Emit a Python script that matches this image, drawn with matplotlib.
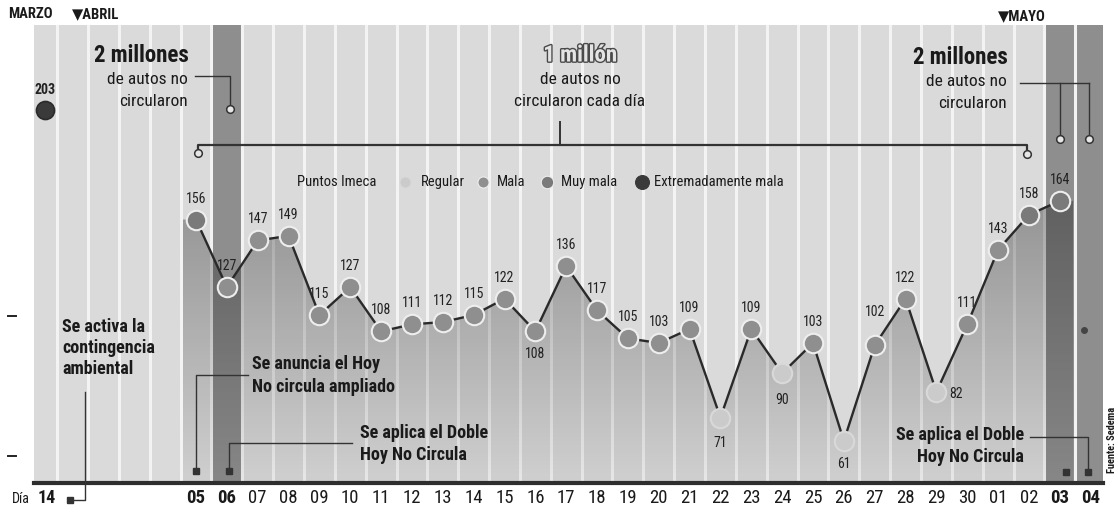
import matplotlib
matplotlib.use('Agg')
import matplotlib.pyplot as plt
import numpy as np
from matplotlib import font_manager as fm
from matplotlib import patheffects as pe

# ---------------- data ----------------
days = ['05', '06', '07', '08', '09', '10', '11', '12', '13', '14', '15', '16', '17', '18', '19',
        '20', '21', '22', '23', '24', '25', '26', '27', '28', '29', '30', '01', '02', '03', '04']
bold_days = ['05', '06', '03', '04']
imeca = [156, 127, 147, 149, 115, 127, 108, 111, 112, 115, 122, 108, 136, 117, 105,
         103, 109, 71, 109, 90, 103, 61, 102, 122, 82, 111, 143, 158, 164]
march_day = '14'
march_imeca = 203
categories = ['Regular', 'Mala', 'Muy mala', 'Extremadamente mala']
cat_upper = [100, 150, 200, 999]
cat_colors = ['#cbcbcb', '#8f8f8f', '#7a7a7a', '#3a3a3a']
cat_edges = ['#d9d9d9', '#eeeeee', '#eeeeee', '#2a2a2a']

# ---------------- fonts ----------------
avail = {f.name for f in fm.fontManager.ttflist}
narrow = next((f for f in ['Liberation Sans Narrow', 'Roboto Condensed', 'Open Sans Condensed',
                           'DejaVu Sans Condensed', 'Liberation Sans'] if f in avail), 'DejaVu Sans')
FAM = [narrow, 'DejaVu Sans']
plt.rcParams['font.family'] = FAM

def cat_of(v):
    for k, up in enumerate(cat_upper):
        if v <= up:
            return k
    return len(cat_upper) - 1

# ---------------- layout ----------------
W, H = 1118, 516
X0, DX = 196.0, 30.85
def px2i(x):
    return (x - X0) / DX
Y0, DY = 583.0, 2.33

fig = plt.figure(figsize=(W / 100, H / 100), dpi=100)
fig.patch.set_facecolor('white')
ax = fig.add_axes([34 / W, (H - 483) / H, (1103 - 34) / W, (483 - 25) / H])
ax.set_xlim(px2i(34), px2i(1103))
ax.set_ylim((Y0 - 483) / DY, (Y0 - 25) / DY)
ax.set_facecolor('#dadada')

# dark columns
for d in ['06', '03', '04']:
    i = days.index(d)
    ax.axvspan(i - 0.5, i + 0.5, color='#8e8e8e', zorder=0.5, lw=0)
# white stripes
for k in range(-6, 31):
    ax.axvline(k + 0.5, color='#f3f3f3', lw=2.2, zorder=1)

# area with gradient
n = len(imeca)
xs = np.arange(n)
xa = np.concatenate([[px2i(183)], xs, [27.5 + 0.93]])
ya = np.concatenate([[imeca[0]], imeca, [imeca[-1]]])
ylo = ax.get_ylim()[0]
poly = ax.fill_between(xa, ya, ylo, color='none', lw=0, zorder=2)
grad = np.zeros((256, 2, 4))
t = np.linspace(0, 1, 256)[:, None]
grad[..., 3] = 0.05 + 0.28 * t
im = ax.imshow(grad, extent=[xa[0], xa[-1], ylo, 168], origin='lower', aspect='auto',
               zorder=2, interpolation='bilinear')
im.set_clip_path(poly.get_paths()[0], transform=ax.transData)
ax.set_xlim(px2i(34), px2i(1103))
ax.set_ylim((Y0 - 483) / DY, (Y0 - 25) / DY)

# line and markers
ax.plot(xs, imeca, color='#2a2a2a', lw=1.7, zorder=3, solid_capstyle='round')
for i, v in enumerate(imeca):
    c = cat_of(v)
    ax.plot(i, v, 'o', ms=14, mfc=cat_colors[c], mec=cat_edges[c], mew=1.5, zorder=4)
mi = px2i(45)
cm = cat_of(march_imeca)
ax.plot(mi, march_imeca, 'o', ms=13, mfc=cat_colors[cm], mec=cat_edges[cm], mew=1.2, zorder=4)
ax.annotate(str(march_imeca), (mi, march_imeca), xytext=(0, 20), textcoords='offset pixels',
            ha='center', va='center', fontsize=10, fontweight='bold', color='#222', zorder=5)

# value labels
below = {11: (0, -23), 17: (0, -25), 19: (0, -27), 21: (0, -23), 24: (20, -2), 22: (0, 33)}
for i, v in enumerate(imeca):
    off = below.get(i, (0, 21))
    ax.annotate(str(v), (i, v), xytext=off, textcoords='offset pixels', ha='center', va='center',
                fontsize=10, color='#222', zorder=5)

# axis styling
for s in ['top', 'left', 'right']:
    ax.spines[s].set_visible(False)
ax.spines['bottom'].set_linewidth(3)
ax.spines['bottom'].set_color('#2e2e2e')
ax.set_yticks([])
ax.set_xticks(range(len(days)))
ax.set_xticklabels(days, fontsize=13.5, color='#1a1a1a')
for lab in ax.get_xticklabels():
    if lab.get_text() in bold_days:
        lab.set_fontweight('bold')
ax.tick_params(axis='x', length=0, pad=4)

# ---------------- overlay (annotations in pixel coords) ----------------
ov = fig.add_axes([0, 0, 1, 1], zorder=10)
ov.set_xlim(0, W)
ov.set_ylim(H, 0)
ov.axis('off')
ov.patch.set_alpha(0)
LC = '#333333'

def txt(x, y, s, **kw):
    kw.setdefault('va', 'center')
    kw.setdefault('color', '#1a1a1a')
    ov.text(x, y, s, **kw)

def small_circle(x, y):
    ov.plot(x, y, 'o', ms=5.5, mfc='#e6e6e6', mec=LC, mew=1.1)

def small_square(x, y):
    ov.plot(x, y, 's', ms=4.5, mfc=LC, mec=LC)

# months
txt(8, 14, 'MARZO', fontsize=10.5, fontweight='bold')
txt(72, 14, '\u25bcABRIL', fontsize=10.5, fontweight='bold')
txt(998, 16, '\u25bcMAYO', fontsize=10.5, fontweight='bold')

# left "2 millones"
txt(189, 56, '2 millones', fontsize=16.5, fontweight='bold', ha='right')
txt(188, 80, 'de autos no', fontsize=12.5, ha='right')
txt(188, 101, 'circularon', fontsize=12.5, ha='right')
ov.plot([195, 230, 230], [76, 76, 105], color=LC, lw=1)
small_circle(230, 109)

# central "1 millón"
txt(580, 55, '1 millón', fontsize=16.5, fontweight='bold', ha='center', color='#e4e4e4',
    path_effects=[pe.withStroke(linewidth=2, foreground='#4a4a4a')])
txt(580, 80, 'de autos no', fontsize=12.5, ha='center')
txt(580, 101, 'circularon cada día', fontsize=12.5, ha='center')
ov.plot([560, 560], [122, 145], color=LC, lw=1.4)
ov.plot([198, 198, 1027, 1027], [149, 145, 145, 149], color=LC, lw=1.6)
small_circle(198, 153)
small_circle(1027, 154)

# right "2 millones"
txt(1008, 58, '2 millones', fontsize=16.5, fontweight='bold', ha='right')
txt(1007, 81, 'de autos no', fontsize=12.5, ha='right')
txt(1007, 103, 'circularon', fontsize=12.5, ha='right')
ov.plot([1020, 1089], [83, 83], color=LC, lw=1)
ov.plot([1060, 1060], [83, 135], color=LC, lw=1)
ov.plot([1089, 1089], [83, 135], color=LC, lw=1)
small_circle(1060, 139)
small_circle(1089, 139)

# legend
ly = 182
txt(297, ly, 'Puntos Imeca', fontsize=10.5)
leg_x = [405, 483, 547, 642]
leg_tx = [421, 497, 561, 654]
leg_ms = [8, 8, 9, 10]
for k, cname in enumerate(categories):
    ov.plot(leg_x[k], ly, 'o', ms=leg_ms[k], mfc=cat_colors[k], mec=cat_edges[k] if k < 3 else cat_colors[k],
            mew=0.8)
    txt(leg_tx[k], ly, cname, fontsize=10.5)

# left events
txt(62, 327, 'Se activa la', fontsize=13, fontweight='bold')
txt(62, 348, 'contingencia', fontsize=13, fontweight='bold')
txt(62, 369, 'ambiental', fontsize=13, fontweight='bold')
ov.plot([85, 85, 70], [392, 500, 500], color=LC, lw=1)
small_square(70, 500)
txt(12, 499, 'Día', fontsize=10)
txt(38, 498, march_day, fontsize=13, fontweight='bold')

txt(252, 364, 'Se anuncia el Hoy', fontsize=13, fontweight='bold')
txt(252, 387, 'No circula ampliado', fontsize=13, fontweight='bold')
ov.plot([248, 196, 196], [375, 375, 470], color=LC, lw=1)
small_square(196, 471)

txt(360, 433, 'Se aplica el Doble', fontsize=13, fontweight='bold')
txt(360, 455, 'Hoy No Circula', fontsize=13, fontweight='bold')
ov.plot([352, 229, 229], [443, 443, 470], color=LC, lw=1)
small_square(229, 471)

txt(1024, 435, 'Se aplica el Doble', fontsize=13, fontweight='bold', ha='right')
txt(1024, 457, 'Hoy No Circula', fontsize=13, fontweight='bold', ha='right')
ov.plot([1030, 1088, 1088], [437, 437, 470], color=LC, lw=1)
small_square(1088, 472)
small_square(1066, 472)

# misc
ov.plot(1084, 330, 'o', ms=4, color='#444')
ov.plot([8, 16], [316, 316], color='#222', lw=1.4)
ov.plot([8, 16], [456, 456], color='#222', lw=1.4)
txt(1112, 440, 'Fuente: Sedema', fontsize=7.5, rotation=90, ha='center', fontweight='bold')

fig.savefig('out.png', dpi=100, facecolor='white')
